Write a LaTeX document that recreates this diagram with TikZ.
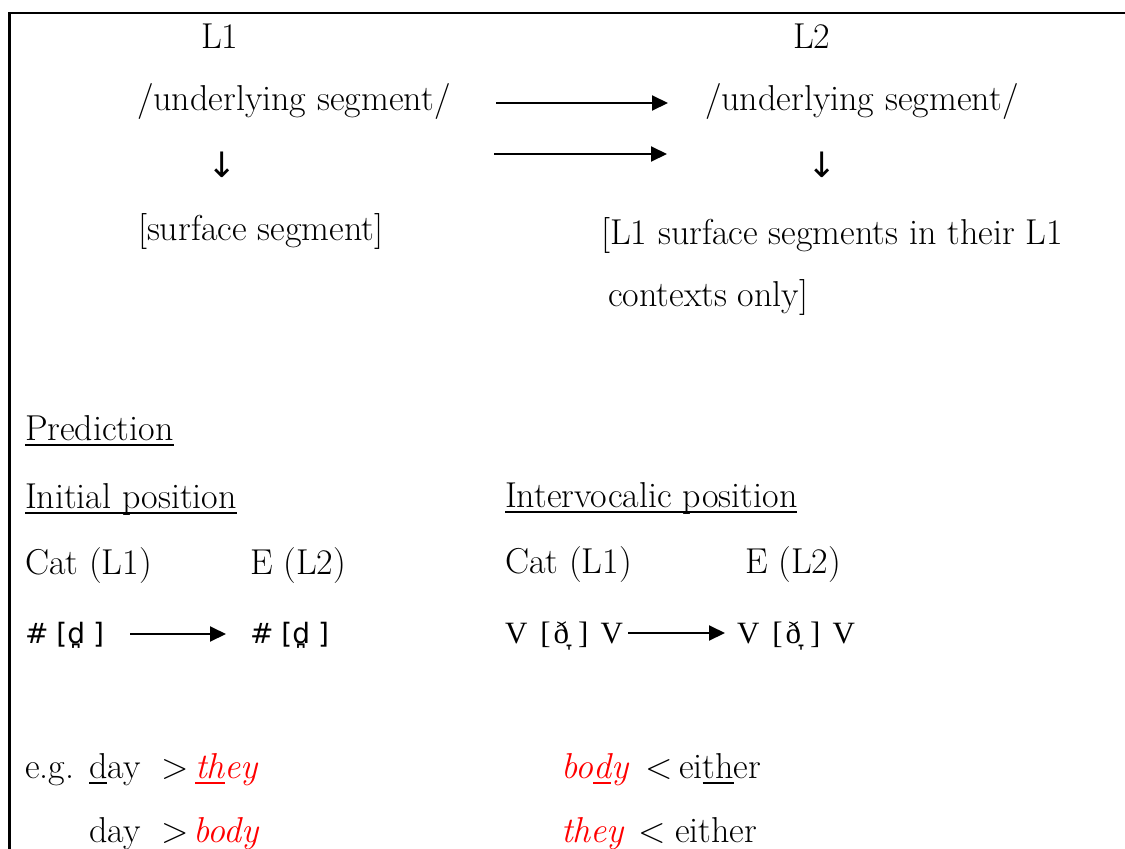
\documentclass[tikz,border=0pt]{standalone}
\usepackage{fontspec}
\usetikzlibrary{arrows.meta}
\newfontfamily\ipasans{DejaVu Sans}
\newfontfamily\ipaserif{Liberation Serif}
\newfontfamily\arrfont{DejaVu Sans}
\newcommand\myul[1]{\setbox0\hbox{#1}\rlap{\rule[-6pt]{\wd0}{2pt}}#1}
\begin{document}
\begin{tikzpicture}[x=1pt,y=-1pt,
  every node/.style={inner sep=0pt,outer sep=0pt,font=\fontsize{36}{42}\selectfont},
  txt/.style={anchor=base west},
  ipa/.style={anchor=base west,font=\fontsize{28}{32}\ipasans},
  ipas/.style={anchor=base west,font=\fontsize{31}{36}\ipaserif},
  downarr/.style={anchor=center,font=\fontsize{35}{40}\arrfont},
  arr/.style={line width=2pt,-{Triangle[length=16pt,width=15pt]}},
  ex/.style={anchor=base west,text=red,font=\fontsize{36}{42}\selectfont\itshape}]
\useasboundingbox (0,0) rectangle (1125,849);
% frame
\draw[line width=2.5pt] (9.5,870) -- (9.5,13) -- (1140,13);
% top schema
\node[txt] (L1) at (201,48) {L1};
\node[txt] (L2) at (793,48) {L2};
\node[txt] (u1) at (137,110) {/underlying segment/};
\node[txt] (u2) at (705,110) {/underlying segment/};
\node[downarr] (d1) at (222,165) {↓};
\node[downarr] (d2) at (822,165) {↓};
\node[txt] (s1) at (138,240) {[surface segment]};
\node[txt] (s2) at (601,244) {[L1 surface segments in their L1};
\node[txt] (s3) at (608,306) {contexts only]};
\coordinate (a1s) at (496,103);
\coordinate (a1e) at (668,103);
\coordinate (a2s) at (494,154);
\coordinate (a2e) at (667,154);
\draw[arr] (a1s) -- (a1e);
\draw[arr] (a2s) -- (a2e);
% prediction
\node[txt] (pred) at (25,440) {\myul{Prediction}};
\node[txt] (init) at (25,508) {\myul{Initial position}};
\node[txt] (inter) at (505,507) {\myul{Intervocalic position}};
\node[txt] (cat1) at (25,574) {Cat (L1)};
\node[txt] (e1) at (250,574) {E (L2)};
\node[txt] (cat2) at (505,573) {Cat (L1)};
\node[txt] (e2) at (745,573) {E (L2)};
\node[ipa] (p1) at (25,643) {\#\hspace{8pt}[d̪\hspace{8pt}]};
\node[ipa] (p2) at (250,643) {\#\hspace{8pt}[d̪\hspace{8pt}]};
\node[ipas] (q1) at (505,643) {V\hspace{13pt}[\hspace{3pt}ð̞\hspace{9pt}]\hspace{12pt}V};
\node[ipas] (q2) at (737,643) {V\hspace{13pt}[\hspace{3pt}ð̞\hspace{9pt}]\hspace{12pt}V};
\coordinate (a3s) at (130,634);
\coordinate (a3e) at (226,634);
\coordinate (a4s) at (628,633);
\coordinate (a4e) at (725,633);
\draw[arr] (a3s) -- (a3e);
\draw[arr] (a4s) -- (a4e);
% examples
\node[txt] (eg) at (25,778) {e.g.};
\node[txt] (day1) at (89,778) {\myul{d}ay};
\node[txt] (gt1) at (161,778) {>};
\node[ex] (they1) at (195,778) {\myul{th}ey};
\node[ex] (body1) at (561,778) {bo\myul{d}y};
\node[txt] (lt1) at (645,778) {<};
\node[txt] (either1) at (679,778) {ei\myul{th}er};
\node[txt] (day2) at (89,842) {day};
\node[txt] (gt2) at (161,842) {>};
\node[ex] (body2) at (193,842) {body};
\node[ex] (they2) at (561,842) {they};
\node[txt] (lt2) at (638,842) {<};
\node[txt] (either2) at (675,842) {either};
\end{tikzpicture}
\end{document}
